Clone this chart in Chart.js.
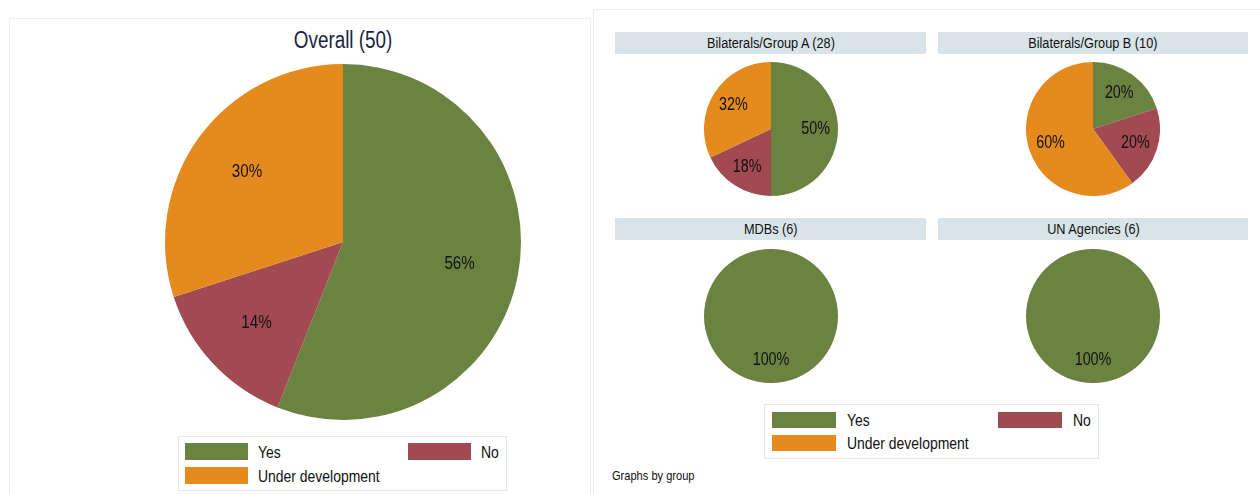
<!DOCTYPE html>
<html>
<head>
<meta charset="utf-8">
<script src="https://cdn.jsdelivr.net/npm/chart.js@4.4.0/dist/chart.umd.min.js"></script>
<style>
  html, body { margin: 0; padding: 0; background: #fff; }
  body { width: 1260px; height: 494px; position: relative; overflow: hidden;
         font-family: 'Liberation Sans', Arial, sans-serif; color: #111; }
  .abs { position: absolute; }
  .panel { position: absolute; border: 1px solid #eeeeee; box-sizing: border-box; }
  .strip { position: absolute; background: #d9e4e8; font-size: 15.5px; text-align: center;
           line-height: 22px; height: 22px; width: 311px; }
  .legend { position: absolute; border: 1px solid #e6e6e6; box-sizing: border-box; background: #fff; }
  .sw { position: absolute; }
  .lt { position: absolute; font-size: 17px; white-space: nowrap; line-height: 17px; }
  .pie { position: absolute; }
  /* condensed look: squeeze the glyphs horizontally */
  .nl { display: inline-block; transform: scaleX(0.82); transform-origin: left center; }
  .nc { display: inline-block; transform: scaleX(0.82); transform-origin: center center; }
</style>
</head>
<body>
<div class="panel" style="left:9px; top:18px; width:582px; height:490px;"></div>
<div class="panel" style="left:593px; top:9px; width:680px; height:500px;"></div>

<div class="abs" style="left:9px; width:668px; top:27px; text-align:center; font-size:23px; color:#1c2541;"><span class="nc">Overall (50)</span></div>

<div class="strip" style="left:615px; top:32px;"><span class="nc">Bilaterals/Group A (28)</span></div>
<div class="strip" style="left:938px; top:32px; width:310px;"><span class="nc">Bilaterals/Group B (10)</span></div>
<div class="strip" style="left:615px; top:218px;"><span class="nc">MDBs (6)</span></div>
<div class="strip" style="left:938px; top:218px; width:310px;"><span class="nc">UN Agencies (6)</span></div>

<div class="pie" style="left:165px; top:64px; width:356px; height:356px;"><canvas id="pOverall"></canvas></div>
<div class="pie" style="left:704px; top:62px; width:134px; height:134px;"><canvas id="pA"></canvas></div>
<div class="pie" style="left:1026px; top:62px; width:134px; height:134px;"><canvas id="pB"></canvas></div>
<div class="pie" style="left:704px; top:249px; width:134px; height:134px;"><canvas id="pMDB"></canvas></div>
<div class="pie" style="left:1026px; top:249px; width:134px; height:134px;"><canvas id="pUN"></canvas></div>

<div class="legend" id="legLeft" style="left:178px; top:436px; width:329px; height:55px;"></div>
<div class="legend" id="legRight" style="left:764px; top:404px; width:335px; height:55px;"></div>

<div class="abs" style="left:612px; top:468px; font-size:13.5px;"><span class="nl">Graphs by group</span></div>

<script>
const categories = ['Yes', 'No', 'Under development'];
const colors = ['#6a8340', '#a14a52', '#e58a1c'];

const overall = [56, 14, 30];
const groupA = [50, 18, 32];
const groupB = [20, 20, 60];
const mdbs = [100, 0, 0];
const unAgencies = [100, 0, 0];

const FONT = "'Liberation Sans', Arial, sans-serif";

// percentage text at two thirds of the radius, like Stata's plabel
const sliceLabels = {
  id: 'sliceLabels',
  afterDatasetsDraw(chart, args, opts) {
    const ctx = chart.ctx;
    const meta = chart.getDatasetMeta(0);
    const data = chart.data.datasets[0].data;
    ctx.save();
    ctx.fillStyle = '#111';
    ctx.font = `${opts.size}px ${FONT}`;
    ctx.textAlign = 'center';
    ctx.textBaseline = 'middle';
    meta.data.forEach((arc, i) => {
      if (!data[i]) return;
      const mid = (arc.startAngle + arc.endAngle) / 2;
      const r = arc.outerRadius * 2 / 3;
      ctx.save();
      ctx.translate(arc.x + Math.cos(mid) * r, arc.y + Math.sin(mid) * r);
      ctx.scale(0.82, 1);
      ctx.fillText(data[i] + '%', 0, 0);
      ctx.restore();
    });
    ctx.restore();
  },
};

function pie(id, values, labelSize) {
  new Chart(document.getElementById(id), {
    type: 'pie',
    data: {
      labels: categories,
      datasets: [{ data: values, backgroundColor: colors, borderWidth: 0 }],
    },
    options: {
      responsive: true,
      maintainAspectRatio: false,
      animation: false,
      layout: { padding: 0 },
      plugins: {
        legend: { display: false },
        tooltip: { enabled: false },
        sliceLabels: { size: labelSize },
      },
    },
    plugins: [sliceLabels],
  });
}

pie('pOverall', overall, 18.5);
pie('pA', groupA, 17.5);
pie('pB', groupB, 17.5);
pie('pMDB', mdbs, 17.5);
pie('pUN', unAgencies, 17.5);

// legends: Yes / No on the first row, Under development below
function legend(id, sw, gap, col2, rows) {
  const box = document.getElementById(id);
  const spots = [[0, 0], [1, 0], [0, 1]];
  categories.forEach((c, i) => {
    const [col, row] = spots[i];
    const x = sw.left + col * col2;
    const y = sw.top + row * rows;
    const s = document.createElement('div');
    s.className = 'sw';
    Object.assign(s.style, { left: x + 'px', top: y + 'px', width: sw.w + 'px', height: sw.h + 'px', background: colors[i] });
    box.appendChild(s);
    const t = document.createElement('div');
    t.className = 'lt';
    t.innerHTML = `<span class="nl">${c}</span>`;
    Object.assign(t.style, { left: (x + sw.w + gap) + 'px', top: (y + sw.h / 2 - 8) + 'px' });
    box.appendChild(t);
  });
}

legend('legLeft', { left: 6, top: 6, w: 63, h: 17 }, 10, 223, 24);
legend('legRight', { left: 7, top: 7, w: 64, h: 16 }, 11, 226, 23);
</script>
</body>
</html>
